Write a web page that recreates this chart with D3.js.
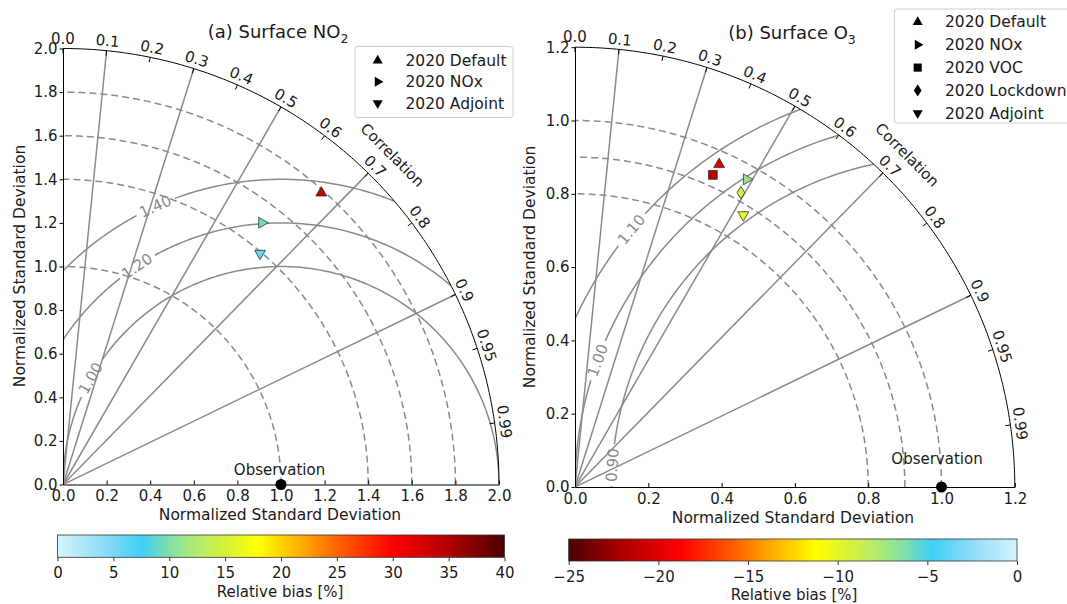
<!DOCTYPE html>
<html><head><meta charset="utf-8">
<script src="https://cdn.jsdelivr.net/npm/d3@7"></script>
<style>
body{margin:0;background:#fff;}
svg{display:block;font-family:"DejaVu Sans",sans-serif;}
</style></head><body>
<svg id="chart" width="1067" height="604"></svg>
<script>
// ---------- data ----------
const corrTicks = [0, 0.1, 0.2, 0.3, 0.4, 0.5, 0.6, 0.7, 0.8, 0.9, 0.95, 0.99];
const corrLines = [0.1, 0.3, 0.5, 0.7, 0.9];

const no2Cases = ["2020 Default", "2020 NOx", "2020 Adjoint"];
const no2Std   = [1.787, 1.508, 1.393];
const no2Corr  = [0.663, 0.605, 0.649];
const no2Bias  = [34, 9.5, 6];
const no2StdTicks = [0, 0.2, 0.4, 0.6, 0.8, 1.0, 1.2, 1.4, 1.6, 1.8, 2.0];
const no2StdArcs  = [1.0, 1.4, 1.6, 1.8];
const no2RmsArcs  = [1.0, 1.2, 1.4];
const no2RmsLabelAngles = [150.8, 123.4, 114.3];
const no2BiasTicks = [0, 5, 10, 15, 20, 25, 30, 35, 40];

const o3Cases = ["2020 Default", "2020 NOx", "2020 VOC", "2020 Lockdown", "2020 Adjoint"];
const o3Std   = [0.964, 0.961, 0.931, 0.922, 0.873];
const o3Corr  = [0.408, 0.487, 0.404, 0.491, 0.526];
const o3Bias  = [-20, -7, -21.5, -9, -10];
const o3StdTicks = [0, 0.2, 0.4, 0.6, 0.8, 1.0, 1.2];
const o3StdArcs  = [0.8, 0.9, 1.0];
const o3RmsArcs  = [0.9, 1.0, 1.1];
const o3RmsLabelAngles = [176.2, 159.8, 140.3];
const o3BiasTicks = [-25, -20, -15, -10, -5, 0];

const caseShapes = {"2020 Default":"up","2020 NOx":"right","2020 VOC":"square","2020 Lockdown":"diamond","2020 Adjoint":"down"};

// colormap (0 = light, 1 = dark)
const cmapStops = [0, 0.1, 0.19, 0.25, 0.32, 0.375, 0.45, 0.5, 0.56, 0.625, 0.69, 0.75, 0.875, 1];
const cmapColors = ["#d4f3fd","#90dcf6","#3fcff8","#80e0a8","#b8ec68","#d8f238","#ffff00","#ffd200","#ffa000","#ff6400","#ff3000","#ff0000","#b00000","#4a0000"];
const cmap = d3.scaleLinear().domain(cmapStops).range(cmapColors).interpolate(d3.interpolateRgb).clamp(true);

// ---------- drawing ----------
const svg = d3.select("#chart");
const TXT = "#1a1a1a", GRID = "#8a8a8a";

function markerPath(shape, size){
  if(shape==="square") return {d:d3.symbol(d3.symbolSquare, size*1.5)(), rot:0};
  if(shape==="diamond"){ const w=3.9,h=6.2; return {d:`M0,${-h}L${w},0L0,${h}L${-w},0Z`, rot:0}; }
  const d = d3.symbol(d3.symbolTriangle, size)();
  return {d, rot: shape==="up"?0:shape==="right"?90:180};
}

function panel(c){
  const g = svg.append("g");
  const x = d3.scaleLinear().domain([0,c.max]).range([c.ox, c.ox + c.max*c.s]);
  const y = d3.scaleLinear().domain([0,c.max]).range([c.oy, c.oy - c.max*c.s]);
  const P = (r,th)=>[x(r*Math.cos(th)), y(r*Math.sin(th))];
  const line = d3.line();
  const N = 200;
  const arcPts = (r,a0,a1)=>d3.range(N+1).map(i=>P(r, a0+(a1-a0)*i/N));

  const clipId = "clip"+c.id;
  g.append("clipPath").attr("id",clipId).append("path")
    .attr("d", line([[x(0),y(0)], ...arcPts(c.max,0,Math.PI/2)])+"Z");
  const grid = g.append("g").attr("clip-path",`url(#${clipId})`);

  c.stdArcs.forEach(r=>{
    grid.append("path").attr("d", line(arcPts(r,0,Math.PI/2)))
      .attr("fill","none").attr("stroke",GRID).attr("stroke-width",1.5).attr("stroke-dasharray","7,4");
  });
  corrLines.forEach(cr=>{
    const th = Math.acos(cr);
    grid.append("path").attr("d", line([P(0,0), P(c.max,th)]))
      .attr("fill","none").attr("stroke",GRID).attr("stroke-width",1.5);
  });
  const fmt2 = d3.format(".2f");
  c.rmsArcs.forEach((r,i)=>{
    const phi = c.rmsAngles[i]*Math.PI/180;
    const label = fmt2(r);
    const halfW = label.length*0.6*15/2 + 3;
    const gap = halfW/(r*c.s);
    const pts = (a0,a1)=>d3.range(N+1).map(k=>{const t=a0+(a1-a0)*k/N; return [x(1+r*Math.cos(t)), y(r*Math.sin(t))];});
    [[0,phi-gap],[phi+gap,Math.PI]].forEach(([a0,a1])=>{
      grid.append("path").attr("d", line(pts(a0,a1)))
        .attr("fill","none").attr("stroke",GRID).attr("stroke-width",1.5);
    });
    const lx = x(1+r*Math.cos(phi)), ly = y(r*Math.sin(phi));
    g.append("text").attr("x",lx).attr("y",ly).attr("dy","0.35em")
      .attr("text-anchor","middle").attr("font-size",15).attr("fill",GRID)
      .attr("transform",`rotate(${90-c.rmsAngles[i]},${lx},${ly})`).text(label);
  });

  g.append("path").attr("d", line(arcPts(c.max,0,Math.PI/2)))
    .attr("fill","none").attr("stroke","#000").attr("stroke-width",1);
  corrTicks.forEach(cr=>{
    const th = Math.acos(cr);
    g.append("path").attr("d", line([P(c.max,th), P(c.max-5/c.s,th)]))
      .attr("stroke","#000").attr("stroke-width",1);
    const [lx,ly] = P(c.max+10/c.s, th);
    g.append("text").attr("x",lx).attr("y",ly).attr("dy","0.35em")
      .attr("text-anchor","middle").attr("font-size",15).attr("fill",TXT)
      .attr("transform",`rotate(${90-th*180/Math.PI},${lx},${ly})`)
      .text(String(cr.toFixed(cr===0.95||cr===0.99?2:1)));
  });
  {
    const [lx,ly] = P(c.max+30/c.s, Math.PI/4);
    g.append("text").attr("x",lx).attr("y",ly).attr("dy","0.35em")
      .attr("text-anchor","middle").attr("font-size",15).attr("fill",TXT)
      .attr("transform",`rotate(45,${lx},${ly})`).text("Correlation");
  }

  const fmt1 = d3.format(".1f");
  const xa = g.append("g").attr("transform",`translate(0,${c.oy})`)
    .call(d3.axisBottom(x).tickValues(c.stdTicks).tickFormat(fmt1).tickSizeInner(-4).tickSizeOuter(0).tickPadding(6));
  const ya = g.append("g").attr("transform",`translate(${c.ox},0)`)
    .call(d3.axisLeft(y).tickValues(c.stdTicks).tickFormat(fmt1).tickSizeInner(3.5).tickSizeOuter(0).tickPadding(2));
  [xa,ya].forEach(a=>{
    a.attr("font-size",15).attr("font-family","DejaVu Sans");
    a.selectAll("text").attr("fill",TXT);
    a.selectAll("line,path").attr("stroke","#000");
  });
  g.append("text").attr("x",c.xLabel[0]).attr("y",c.xLabel[1]).attr("dy","0.35em")
    .attr("text-anchor","middle").attr("font-size",15.5).attr("fill",TXT).text("Normalized Standard Deviation");
  g.append("text").attr("transform",`translate(${c.yLabel[0]},${c.yLabel[1]}) rotate(-90)`).attr("dy","0.35em")
    .attr("text-anchor","middle").attr("font-size",15.5).attr("fill",TXT).text("Normalized Standard Deviation");

  const t = g.append("text").attr("x",c.title[0]).attr("y",c.title[1]).attr("dy","0.35em")
    .attr("text-anchor","middle").attr("font-size",18).attr("fill",TXT);
  t.append("tspan").text(c.titleText);
  t.append("tspan").attr("font-size",12.5).attr("dy",5).text(c.titleSub);

  g.append("circle").attr("cx",x(1)).attr("cy",y(0)).attr("r",5.5).attr("fill","#000");
  g.append("text").attr("x",x(1)+c.obsLabel[0]).attr("y",y(0)+c.obsLabel[1]).attr("dy","0.35em")
    .attr("text-anchor","middle").attr("font-size",15).attr("fill",TXT).text("Observation");

  c.cases.forEach((name,i)=>{
    const th = Math.acos(c.corr[i]);
    const [px,py] = P(c.std[i], th);
    const m = markerPath(caseShapes[name], 52);
    g.append("path").attr("d",m.d).attr("transform",`translate(${px},${py}) rotate(${m.rot})`)
      .attr("fill", cmap(c.tOf(c.bias[i]))).attr("stroke","#333").attr("stroke-width",0.8);
  });

  const L = c.legend;
  g.append("rect").attr("x",L.x).attr("y",L.y).attr("width",L.w).attr("height",L.h).attr("rx",3)
    .attr("fill","#fff").attr("fill-opacity",0.85).attr("stroke","#cccccc").attr("stroke-width",1);
  c.cases.forEach((name,i)=>{
    const ry = L.y0 + i*L.dy;
    const m = markerPath(caseShapes[name], 44);
    g.append("path").attr("d",m.d).attr("transform",`translate(${L.mx},${ry}) rotate(${m.rot})`).attr("fill","#000");
    g.append("text").attr("x",L.tx).attr("y",ry).attr("dy","0.35em").attr("font-size",15.5).attr("fill",TXT).text(name);
  });

  const cb = c.cb;
  const cbx = d3.scaleLinear().domain(cb.domain).range([cb.x0,cb.x1]);
  const gradId = "grad"+c.id;
  const grad = svg.append("defs").append("linearGradient").attr("id",gradId).attr("x1","0%").attr("x2","100%");
  d3.range(81).forEach(i=>{
    const v = cb.domain[0] + (cb.domain[1]-cb.domain[0])*i/80;
    grad.append("stop").attr("offset",(i/80*100)+"%").attr("stop-color",cmap(c.tOf(v)));
  });
  g.append("rect").attr("x",cb.x0).attr("y",cb.y0).attr("width",cb.x1-cb.x0).attr("height",cb.y1-cb.y0)
    .attr("fill",`url(#${gradId})`).attr("stroke","#333").attr("stroke-width",0.8);
  const ca = g.append("g").attr("transform",`translate(0,${cb.y1})`)
    .call(d3.axisBottom(cbx).tickValues(cb.ticks).tickFormat(d3.format("d")).tickSizeInner(4).tickSizeOuter(0).tickPadding(6));
  ca.attr("font-size",15).attr("font-family","DejaVu Sans");
  ca.select(".domain").remove();
  ca.selectAll("line").attr("stroke","#333");
  ca.selectAll("text").attr("fill",TXT);
  g.append("text").attr("x",cb.label[0]).attr("y",cb.label[1]).attr("dy","0.35em")
    .attr("text-anchor","middle").attr("font-size",15).attr("fill",TXT).text("Relative bias [%]");
}

panel({
  id:"a", ox:63, oy:484.5, s:218, max:2,
  stdTicks:no2StdTicks, stdArcs:no2StdArcs, rmsArcs:no2RmsArcs, rmsAngles:no2RmsLabelAngles,
  cases:no2Cases, std:no2Std, corr:no2Corr, bias:no2Bias, tOf:v=>v/40,
  titleText:"(a) Surface NO", titleSub:"2", title:[278,31.5],
  xLabel:[280,515], yLabel:[20,266], obsLabel:[-1.5,-14.5],
  legend:{x:355,y:46.5,w:158,h:71,y0:60.5,dy:21.3,mx:377.7,tx:405.5},
  cb:{x0:57.5,x1:504.5,y0:535,y1:557.3,domain:[0,40],ticks:no2BiasTicks,label:[280,592]}
});
panel({
  id:"b", ox:575, oy:487, s:366.5, max:1.2,
  stdTicks:o3StdTicks, stdArcs:o3StdArcs, rmsArcs:o3RmsArcs, rmsAngles:o3RmsLabelAngles,
  cases:o3Cases, std:o3Std, corr:o3Corr, bias:o3Bias, tOf:v=>-v/25,
  titleText:"(b) Surface O", titleSub:"3", title:[792,32.5],
  xLabel:[793,518], yLabel:[530,267], obsLabel:[-4.5,-28.7],
  legend:{x:894.3,y:9,w:200,h:114,y0:22,dy:22.8,mx:917.7,tx:945},
  cb:{x0:568.7,x1:1017,y0:539,y1:561,domain:[-25,0],ticks:o3BiasTicks,label:[794,594.5]}
});
</script>
</body></html>
